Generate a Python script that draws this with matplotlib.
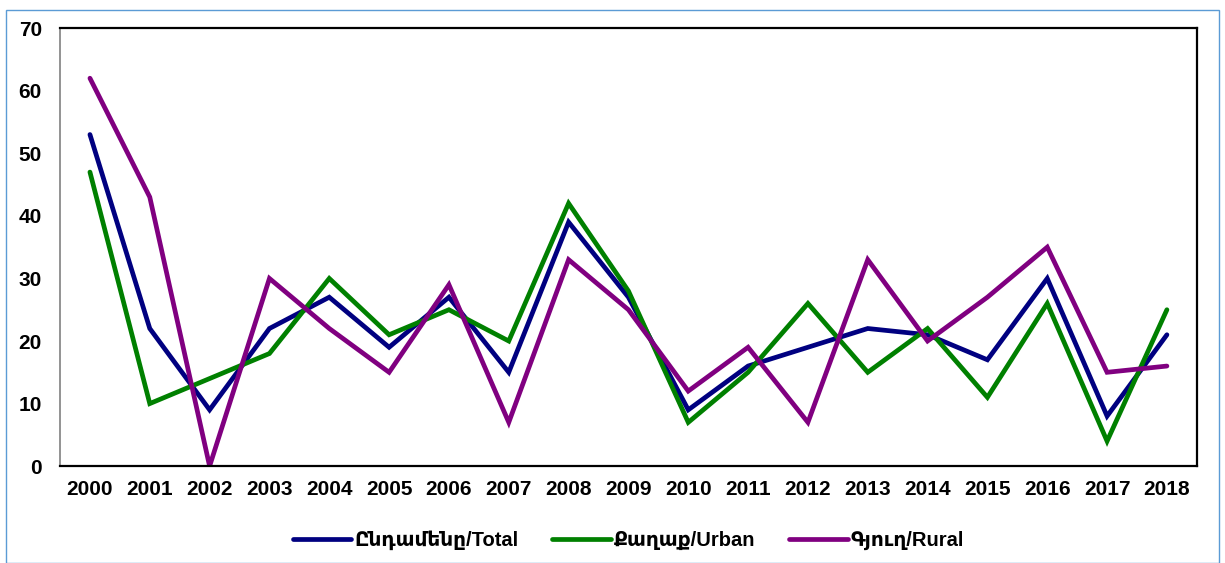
import matplotlib.pyplot as plt
from matplotlib.patches import Rectangle

# === Data ===
years = [str(y) for y in range(2000, 2019)]
total = [53, 22, 9, 22, 27, 19, 27, 15, 39, 27, 9, 16, 19, 22, 21, 17, 30, 8, 21]
urban = [47, 10, 14, 18, 30, 21, 25, 20, 42, 28, 7, 15, 26, 15, 22, 11, 26, 4, 25]
rural = [62, 43, 0, 30, 22, 15, 29, 7, 33, 25, 12, 19, 7, 33, 20, 27, 35, 15, 16]
labels = ['Ընդամենը/Total', 'Քաղաք/Urban', 'Գյուղ/Rural']
colors = ['#000080', '#008000', '#800080']

plt.rcParams['font.family'] = ['Liberation Sans', 'DejaVu Sans']

fig = plt.figure(figsize=(12.25, 5.63), dpi=100)
ax = fig.add_axes([0.049, 0.172, 0.928, 0.778])

x = range(len(years))
for series, lab, col in zip([total, urban, rural], labels, colors):
    ax.plot(x, series, color=col, lw=3.4, label=lab, solid_capstyle='round',
            solid_joinstyle='miter')

ax.set_xlim(-0.5, len(years) - 0.5)
ax.set_ylim(0, 70)
ax.set_yticks(range(0, 71, 10))
ax.set_xticks(list(x))
ax.set_xticklabels(years)
ax.tick_params(length=0, labelsize=15)
ax.tick_params(axis='x', pad=10)
ax.tick_params(axis='y', pad=13)
for t in ax.get_xticklabels() + ax.get_yticklabels():
    t.set_fontweight('bold')

ax.spines['left'].set_color('#808080')
ax.spines['left'].set_linewidth(1.2)
for s in ['bottom', 'top', 'right']:
    ax.spines[s].set_color('black')
    ax.spines[s].set_linewidth(1.6)

leg = ax.legend(loc='center', bbox_to_anchor=(0.5, -0.17), ncol=3,
                frameon=False, prop={'weight': 'bold', 'size': 14.5},
                handlelength=2.9, handletextpad=0.15, columnspacing=1.7)

# outer frame
fig.patches.append(Rectangle((0.005, 0.0), 0.99, 0.983, transform=fig.transFigure,
                             fill=False, edgecolor='#5b9bd5', lw=1))

fig.savefig('out.png', dpi=100)
